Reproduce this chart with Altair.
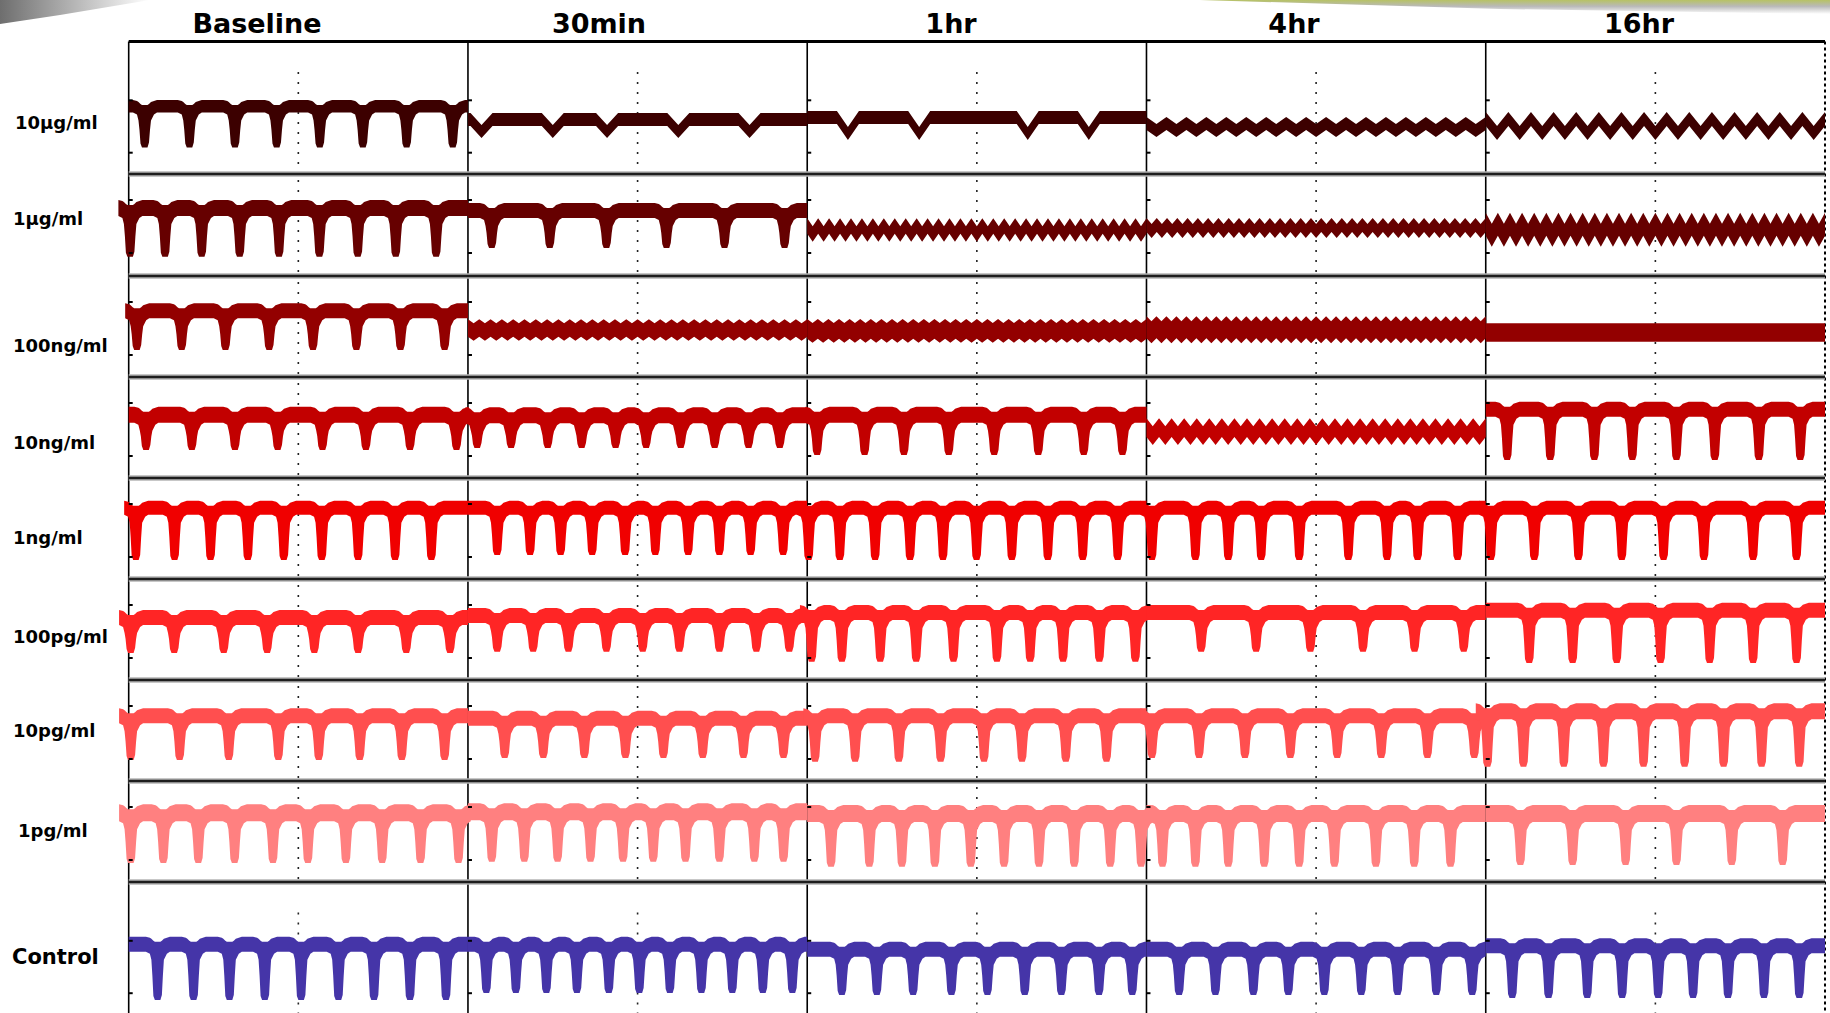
import altair as alt
import pandas as pd

# ---------------------------------------------------------------- data
ROW_LABELS = ["10µg/ml", "1µg/ml", "100ng/ml", "10ng/ml", "1ng/ml",
              "100pg/ml", "10pg/ml", "1pg/ml", "Control"]
COL_TITLES = ["Baseline", "30min", "1hr", "4hr", "16hr"]
ROW_COLORS = ["#3c0000", "#660000", "#930000", "#c20000", "#f00000",
              "#ff2525", "#ff4f4f", "#ff8080", "#4535a8"]

# Levels are read in px below each row's upper border; dip times as fraction of panel width.
TOP_10UG = [58.5, 71.5, 69.5, None, None]
THICK_10UG = [12.5, 13, 13, None, None]
BOTTOM_10UG = [106, 96.5, 98.5, None, None]
DIPS_10UG = [[0.048, 0.18, 0.314, 0.437, 0.564, 0.691, 0.82, 0.956],
             [0.04, 0.25, 0.41, 0.62, 0.83],
             [0.12, 0.33, 0.65, 0.83], None, None]
# oscillating panels: (centre, swing, band thickness, cycles)
OSC_10UG = [None, None, None, (85.5, 7, 13, 17), (84.5, 14, 14, 15)]

TOP_1UG = [26, 29, None, None, None]
THICK_1UG = [16, 15, None, None, None]
BOTTOM_1UG = [82.7, 74, None, None, None]
DIPS_1UG = [[0.005, 0.108, 0.216, 0.328, 0.444, 0.563, 0.676, 0.788, 0.907],
            [0.071, 0.242, 0.409, 0.586, 0.757, 0.934], None, None, None]
OSC_1UG = [None, None, (56, 8, 15.4, 31), (54, 6, 14, 33), (55.7, 11, 23, 28)]

TOP_100NG = [27.3, None, None, None, None]
THICK_100NG = [15, None, None, None, None]
BOTTOM_100NG = [74, None, None, None, None]
DIPS_100NG = [[0.025, 0.157, 0.286, 0.415, 0.544, 0.672, 0.802, 0.932], None, None, None, None]
OSC_100NG = [None, (54, 4, 17.4, 30), (54.8, 4, 19.7, 32), (53.7, 5, 22, 34), (56.5, 0, 18.4, 1)]

TOP_10NG = [29.7, 30.3, 29.7, None, 24.7]
THICK_10NG = [16, 16, 16, None, 15]
BOTTOM_10NG = [73, 71, 78, None, 83]
DIPS_10NG = [[0.052, 0.187, 0.314, 0.44, 0.572, 0.7, 0.83, 0.967],
             [0.028, 0.128, 0.236, 0.336, 0.436, 0.526, 0.628, 0.728, 0.828, 0.92],
             [0.03, 0.17, 0.286, 0.418, 0.552, 0.682, 0.816, 0.93], None,
             [0.064, 0.191, 0.321, 0.433, 0.563, 0.676, 0.806, 0.928]]
OSC_10NG = [None, None, None, (54.7, 8, 18.7, 27), None]

TOP_1NG = [22.7, 22.7, 22.7, 22.7, 22.7]
THICK_1NG = [14, 14, 14, 14, 14]
BOTTOM_1NG = [82, 77, 82, 82, 82]
DIPS_1NG = [[0.022, 0.136, 0.242, 0.352, 0.458, 0.57, 0.677, 0.786, 0.893],
            [0.087, 0.184, 0.274, 0.367, 0.464, 0.553, 0.65, 0.742, 0.834, 0.93],
            [0.005, 0.097, 0.201, 0.304, 0.401, 0.5, 0.604, 0.71, 0.813, 0.916],
            [0.017, 0.145, 0.242, 0.339, 0.451, 0.596, 0.71, 0.8, 0.918],
            [0.016, 0.144, 0.274, 0.402, 0.525, 0.644, 0.789, 0.917]]
OSC_1NG = [None] * 5

TOP_100PG = [31, 29, 26, 26, 23.7]
THICK_100PG = [15, 15, 15, 15, 15]
BOTTOM_100PG = [74, 72.7, 82.7, 72.7, 84]
DIPS_100PG = [[0.007, 0.135, 0.281, 0.409, 0.548, 0.677, 0.819, 0.948],
              [0.087, 0.193, 0.297, 0.409, 0.516, 0.624, 0.742, 0.851, 0.948],
              [0.014, 0.103, 0.216, 0.322, 0.432, 0.56, 0.658, 0.755, 0.862, 0.968],
              [0.162, 0.324, 0.484, 0.639, 0.791, 0.936],
              [0.129, 0.257, 0.387, 0.516, 0.661, 0.789, 0.917]]
OSC_100PG = [None] * 5

TOP_10PG = [28.3, 30.7, 28.3, 28.3, 23.3]
THICK_10PG = [15, 15, 15, 15, 16]
BOTTOM_10PG = [80, 78, 81.7, 78, 86.7]
DIPS_10PG = [[0.007, 0.151, 0.296, 0.442, 0.561, 0.682, 0.806, 0.932],
             [0.109, 0.223, 0.344, 0.465, 0.577, 0.693, 0.813, 0.931],
             [0.024, 0.142, 0.271, 0.394, 0.522, 0.634, 0.763, 0.883],
             [0.017, 0.156, 0.291, 0.425, 0.563, 0.693, 0.829, 0.967],
             [0.006, 0.112, 0.231, 0.348, 0.466, 0.587, 0.702, 0.814, 0.925]]
OSC_10PG = [None] * 5

TOP_1PG = [23.3, 22.3, 24, 24, 24]
THICK_1PG = [17, 17, 17, 17, 17]
BOTTOM_1PG = [82, 80.7, 85.7, 85.7, 84]
DIPS_1PG = [[0.007, 0.103, 0.206, 0.313, 0.426, 0.529, 0.641, 0.748, 0.861, 0.973],
            [0.071, 0.167, 0.265, 0.362, 0.458, 0.547, 0.642, 0.742, 0.845, 0.931],
            [0.071, 0.184, 0.28, 0.377, 0.483, 0.581, 0.684, 0.788, 0.894, 0.985],
            [0.048, 0.145, 0.242, 0.348, 0.451, 0.555, 0.677, 0.79, 0.897],
            [0.103, 0.257, 0.413, 0.563, 0.726, 0.876]]
OSC_1PG = [None] * 5

TOP_CTRL = [54.7, 54.7, 59.7, 59.7, 56.3]
THICK_CTRL = [15, 15, 15, 15, 15]
BOTTOM_CTRL = [118, 111, 113, 113, 116]
DIPS_CTRL = [[0.086, 0.192, 0.298, 0.402, 0.509, 0.619, 0.724, 0.83, 0.936],
             [0.055, 0.142, 0.232, 0.322, 0.416, 0.506, 0.596, 0.689, 0.78, 0.87, 0.957],
             [0.103, 0.206, 0.313, 0.426, 0.532, 0.642, 0.75, 0.861, 0.959],
             [0.097, 0.204, 0.316, 0.419, 0.525, 0.634, 0.741, 0.855, 0.961],
             [0.079, 0.186, 0.3, 0.403, 0.509, 0.612, 0.715, 0.821, 0.925]]
OSC_CTRL = [None] * 5

ROWS = [
    (TOP_10UG, THICK_10UG, BOTTOM_10UG, DIPS_10UG, OSC_10UG),
    (TOP_1UG, THICK_1UG, BOTTOM_1UG, DIPS_1UG, OSC_1UG),
    (TOP_100NG, THICK_100NG, BOTTOM_100NG, DIPS_100NG, OSC_100NG),
    (TOP_10NG, THICK_10NG, BOTTOM_10NG, DIPS_10NG, OSC_10NG),
    (TOP_1NG, THICK_1NG, BOTTOM_1NG, DIPS_1NG, OSC_1NG),
    (TOP_100PG, THICK_100PG, BOTTOM_100PG, DIPS_100PG, OSC_100PG),
    (TOP_10PG, THICK_10PG, BOTTOM_10PG, DIPS_10PG, OSC_10PG),
    (TOP_1PG, THICK_1PG, BOTTOM_1PG, DIPS_1PG, OSC_1PG),
    (TOP_CTRL, THICK_CTRL, BOTTOM_CTRL, DIPS_CTRL, OSC_CTRL),
]

# ---------------------------------------------------------------- layout
W_PX = 339.26
X0_PX = 128.7
ROW_BORDERS = [41.5, 174, 276, 377, 478, 579, 680, 781, 882]
CHART_H = 1013
XDOM = [-X0_PX / W_PX, (1830 - X0_PX) / W_PX]
YDOM = [0, CHART_H]


def ux(px):
    return (px - X0_PX) / W_PX


def X(f="x"):
    return alt.X(f"{f}:Q", scale=alt.Scale(domain=XDOM, nice=False, zero=False), axis=None)


def Y(f="y"):
    return alt.Y(f"{f}:Q", scale=alt.Scale(domain=YDOM, nice=False, zero=False, reverse=True), axis=None)


def deep_dip(T, h, B):
    mid = (T + h + B) / 2
    return [(-12, T, T + h), (-8, T + 1, T + h + 2), (-6.5, T + 2, T + h + 8),
            (-5.5, T + 3, mid), (-4.5, T + 4, B - 4), (-3, T + 5, B),
            (2.5, T + 5, B), (4, T + 4, B - 5), (5, T + 3, mid),
            (6, T + 2, T + h + 8), (9, T + 1, T + h + 2), (12, T, T + h)]


def shallow_dip(T, h, B):
    return [(-11, T, T + h), (0, B - h, B), (11, T, T + h)]


# ---------------------------------------------------------------- traces table
recs = []
for r, (tops, thicks, bottoms, dips, oscs) in enumerate(ROWS):
    rb = ROW_BORDERS[r]
    for c in range(5):
        pid = f"p{r}{c}"
        pts = []
        if dips[c] is not None:
            T, h, B = tops[c], thicks[c], bottoms[c]
            shape = shallow_dip(T, h, B) if B - (T + h) < 20 else deep_dip(T, h, B)
            for d in dips[c]:
                xd = d * W_PX
                for dx, up, lo in shape:
                    pts.append((xd + dx, up, lo))
            if pts[0][0] > 0:
                pts.insert(0, (0, T, T + h))
            if pts[-1][0] < W_PX:
                pts.append((W_PX, T, T + h))
        else:
            C, a, t, n = oscs[c]
            for k in range(2 * n + 1):
                s = -a / 2 if k % 2 == 0 else a / 2
                pts.append((k * W_PX / (2 * n), C - t / 2 + s, C + t / 2 + s))
        for px, up, lo in pts:
            recs.append({"panel": pid, "conc": ROW_LABELS[r],
                         "tx": float(c + px / W_PX), "ya": float(rb + up), "yb": float(rb + lo)})
traces_df = pd.DataFrame(recs)

traces = alt.Chart(traces_df).mark_area(interpolate="linear").encode(
    x=X("tx"), y=Y("ya"), y2=alt.Y2("yb"),
    color=alt.Color("conc:N", scale=alt.Scale(domain=ROW_LABELS, range=ROW_COLORS), legend=None),
    detail="panel:N",
)

# middle dotted lines
mid = []
for r, rb in enumerate(ROW_BORDERS):
    y_end = ROW_BORDERS[r + 1] - 3 if r + 1 < len(ROW_BORDERS) else CHART_H
    y_start = rb + (30.5 if r in (0, 8) else 6)
    for c in range(5):
        mid.append({"x": c + 0.5, "y": y_start, "y2": y_end})
mid_lines = alt.Chart(pd.DataFrame(mid)).mark_rule(
    color="#222222", strokeWidth=1.6, strokeDash=[2, 8]).encode(x=X(), y=Y(), y2=alt.Y2("y2:Q"))

vdf = pd.DataFrame({"x": [0, 1, 2, 3, 4], "y": [ROW_BORDERS[0]] * 5, "y2": [CHART_H] * 5})
vlines = alt.Chart(vdf).mark_rule(color="#000000", strokeWidth=1.6).encode(
    x=X(), y=Y(), y2=alt.Y2("y2:Q"))
rdf = pd.DataFrame({"x": [5], "y": [ROW_BORDERS[0]], "y2": [CHART_H]})
rline = alt.Chart(rdf).mark_rule(color="#000000", strokeWidth=2, strokeDash=[3, 3]).encode(
    x=X(), y=Y(), y2=alt.Y2("y2:Q"))

hdf = pd.DataFrame({"x": [0] * 8, "x2": [5] * 8, "y": ROW_BORDERS[1:]})
h_halo = alt.Chart(hdf).mark_rule(color="#b4b4b4", strokeWidth=5.5).encode(
    x=X(), x2=alt.X2("x2:Q"), y=Y())
h_core = alt.Chart(hdf).mark_rule(color="#1e1e1e", strokeWidth=2.4).encode(
    x=X(), x2=alt.X2("x2:Q"), y=Y())
tdf = pd.DataFrame({"x": [0], "x2": [5], "y": [ROW_BORDERS[0]]})
top_line = alt.Chart(tdf).mark_rule(color="#000000", strokeWidth=3).encode(
    x=X(), x2=alt.X2("x2:Q"), y=Y())

ticks = []
for r, rb in enumerate(ROW_BORDERS):
    levels = [58.8, 111.2] if r in (0, 8) else [26, 79]
    for c in range(5):
        for lv in levels:
            ticks.append({"x": c, "x2": c + 4 / W_PX, "y": rb + lv})
tick_layer = alt.Chart(pd.DataFrame(ticks)).mark_rule(color="#000000", strokeWidth=2).encode(
    x=X(), x2=alt.X2("x2:Q"), y=Y())

title_df = pd.DataFrame({"t": COL_TITLES, "x": [ux(p) for p in [257, 599, 951, 1294, 1639]],
                         "y": [33] * 5})
titles = alt.Chart(title_df).mark_text(
    font="DejaVu Sans", fontWeight="bold", fontSize=27, color="#000000",
    align="center", baseline="alphabetic").encode(x=X(), y=Y(), text="t:N")

lab_x = [15, 13, 13, 13, 13, 13, 13, 18, 12]
lab_y = [124, 219.6, 347, 443.8, 539.4, 637.6, 732, 832, 958]
lab_df = pd.DataFrame({"t": ROW_LABELS, "x": [ux(p) for p in lab_x], "y": lab_y,
                       "s": [18] * 8 + [21]})
labels = alt.Chart(lab_df).mark_text(
    font="DejaVu Sans", fontWeight="bold", color="#000000",
    align="left", baseline="middle").encode(
    x=X(), y=Y(), text="t:N", size=alt.Size("s:Q", scale=None, legend=None))

deco_l = pd.DataFrame({"x": [ux(p) for p in [0, 60, 150]], "y": [0, 0, 0], "y2": [24, 15, 0]})
deco_left = alt.Chart(deco_l).mark_area(
    color=alt.Gradient(gradient="linear",
                       stops=[alt.GradientStop(color="#6e6e6e", offset=0),
                              alt.GradientStop(color="#ffffff", offset=1)],
                       x1=0, x2=1, y1=0, y2=0)).encode(x=X(), y=Y(), y2=alt.Y2("y2:Q"))
deco_r = pd.DataFrame({"x": [ux(p) for p in [1200, 1500, 1830]], "y": [0, 0, 0], "y2": [0, 9, 14]})
deco_right = alt.Chart(deco_r).mark_area(
    color=alt.Gradient(gradient="linear",
                       stops=[alt.GradientStop(color="#b7c265", offset=0),
                              alt.GradientStop(color="#b9b9b9", offset=0.45),
                              alt.GradientStop(color="#ffffff", offset=1)],
                       x1=0, x2=0, y1=0, y2=1)).encode(x=X(), y=Y(), y2=alt.Y2("y2:Q"))

chart = alt.layer(
    deco_left, deco_right, mid_lines, vlines, rline, traces,
    h_halo, h_core, top_line, tick_layer, titles, labels,
).properties(
    width=1830, height=CHART_H, padding=0,
    autosize=alt.AutoSizeParams(type="none"),
    background="#ffffff",
).configure_view(stroke=None)

chart.save("out.html", embed_options={"renderer": "svg", "actions": False})
